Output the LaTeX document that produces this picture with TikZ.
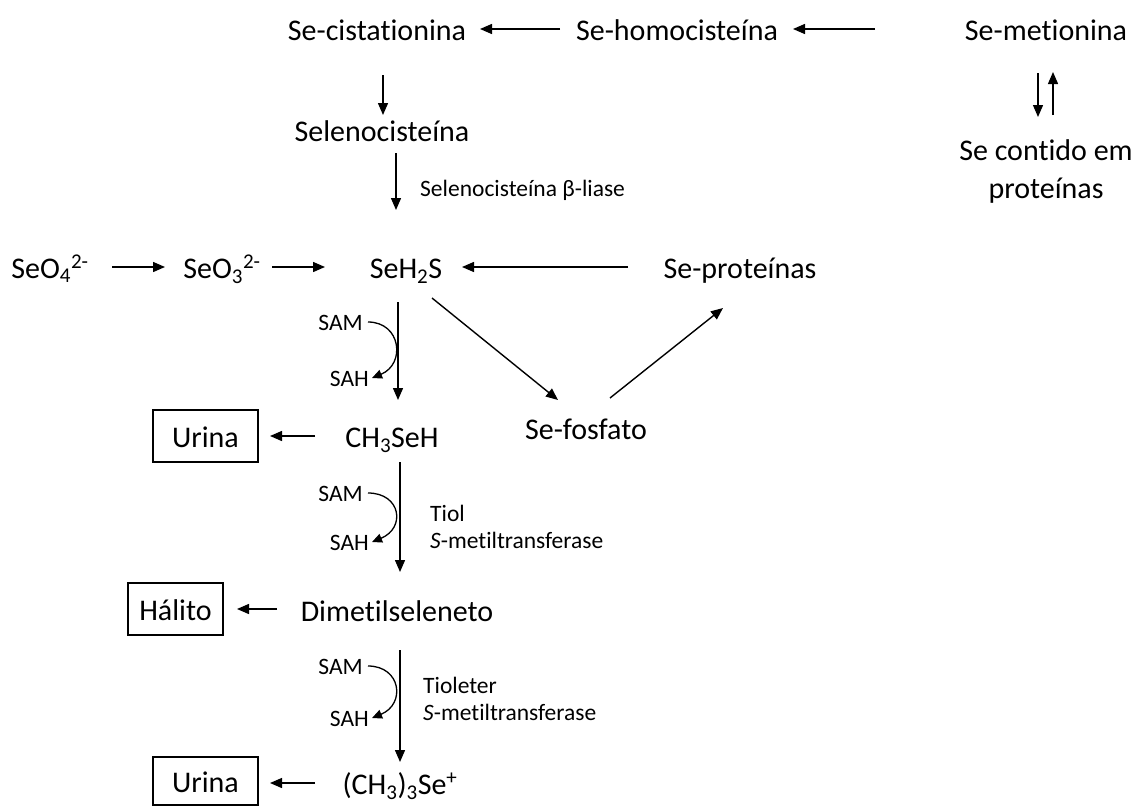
\documentclass[tikz,border=0pt]{standalone}
\usepackage{fontspec}
\setmainfont{Carlito}[Ligatures=NoCommon]
\usetikzlibrary{arrows.meta}
\begin{document}
\begin{tikzpicture}[x=1pt,y=-1pt,
  lbl/.style={font=\fontsize{30}{38}\selectfont, inner sep=0pt, text height=22pt, text depth=0pt},
  sml/.style={font=\fontsize{23.5}{28}\selectfont, inner sep=0pt, text height=16pt, text depth=0pt},
  box/.style={lbl, draw, line width=1.2pt, minimum width=105pt, minimum height=52pt},
  arr/.style={line width=1.4pt, -{Triangle[length=12pt,width=10pt]}},
  carr/.style={line width=1.3pt, -{Triangle[length=10pt,width=9pt]}}]
\useasboundingbox (0,0) rectangle (1141,806);
% nodes
\node[lbl] (scist) at (377,29) {Se-cistationina};
\node[lbl] (shomo) at (677,29) {Se-homocisteína};
\node[lbl] (smet) at (1046,29) {Se-metionina};
\node[font=\fontsize{30}{38}\selectfont, inner sep=0pt, align=center] (sprt) at (1046,171) {Se contido em\\proteínas};
\node[lbl] (selc) at (382,130) {Selenocisteína};
\node[sml, anchor=west] (bliase) at (420,188) {Selenocisteína β-liase};
\node[lbl] (seo4) at (50,267) {SeO\textsubscript{4}\textsuperscript{2-}};
\node[lbl] (seo3) at (222,267) {SeO\textsubscript{3}\textsuperscript{2-}};
\node[lbl] (seh2s) at (406,267) {SeH\textsubscript{2}S};
\node[lbl] (sprot) at (740,267) {Se-proteínas};
\node[sml, anchor=east] (sam1) at (363,322) {SAM};
\node[sml, anchor=east] (sah1) at (369,378) {SAH};
\node[lbl] (sfos) at (586,428) {Se-fosfato};
\node[lbl] (ch3) at (392,436) {CH\textsubscript{3}SeH};
\node[box] (ur1) at (205.5,436) {Urina};
\node[sml, anchor=east] (sam2) at (363,493) {SAM};
\node[sml, anchor=east] (sah2) at (369,542) {SAH};
\node[sml, anchor=west] (tiol) at (430,513) {Tiol};
\node[sml, anchor=west] (smt1) at (430,540) {\textit{S}-metiltransferase};
\node[lbl] (dimet) at (397,610) {Dimetilseleneto};
\node[box, minimum width=95pt] (hal) at (175.5,609) {Hálito};
\node[sml, anchor=east] (sam3) at (363,666) {SAM};
\node[sml, anchor=east] (sah3) at (369,718) {SAH};
\node[sml, anchor=west] (tiolet) at (423,685) {Tioleter};
\node[sml, anchor=west] (smt2) at (423,712) {\textit{S}-metiltransferase};
\node[lbl] (tri) at (400,783) {(CH\textsubscript{3})\textsubscript{3}Se\textsuperscript{+}};
\node[box, minimum height=48pt] (ur2) at (205.5,781) {Urina};
% connectors
\draw[arr] ([shift={(-117,0)}]shomo.center) -- ([shift={(103,0)}]scist.center);
\draw[arr] ([shift={(-171,0)}]smet.center) -- ([shift={(116,0)}]shomo.center);
\draw[arr] ([shift={(6,46)}]scist.center) -- ([shift={(1,-15)}]selc.center);
\draw[arr] ([shift={(14,23)}]selc.center) -- ([shift={(-10,-57)}]seh2s.center);
\draw[arr] ([shift={(62,0)}]seo4.center) -- ([shift={(-57,0)}]seo3.center);
\draw[arr] ([shift={(50,0)}]seo3.center) -- ([shift={(-81,0)}]seh2s.center);
\draw[arr] ([shift={(-112,0)}]sprot.center) -- ([shift={(56,0)}]seh2s.center);
\draw[arr] ([shift={(-8,35)}]seh2s.center) -- ([shift={(6,-36)}]ch3.center);
\draw[arr] ([shift={(26,31)}]seh2s.center) -- ([shift={(-28,-28)}]sfos.center);
\draw[arr] ([shift={(24,-30)}]sfos.center) -- ([shift={(-17,41)}]sprot.center);
\draw[arr] ([shift={(-77,0)}]ch3.center) -- ([shift={(64.5,0)}]ur1.center);
\draw[arr] ([shift={(8,26)}]ch3.center) -- ([shift={(3,-38)}]dimet.center);
\draw[arr] ([shift={(-120,-1)}]dimet.center) -- ([shift={(61.5,0)}]hal.center);
\draw[arr] ([shift={(3,40)}]dimet.center) -- ([shift={(0,-21)}]tri.center);
\draw[arr] ([shift={(-85,0)}]tri.center) -- ([shift={(64.5,2)}]ur2.center);
\draw[arr] ([shift={(-8,44)}]smet.center) -- ([shift={(-8,-54)}]sprt.center);
\draw[arr] ([shift={(7,-56)}]sprt.center) -- ([shift={(7,43)}]smet.center);
% SAM -> SAH curves
\foreach \a/\b in {sam1/sah1, sam2/sah2, sam3/sah3}{
  \draw[carr] ([shift={(5,0)}]\a.east) .. controls ([shift={(38,0)}]\a.east) and ([shift={(37,-14)}]\b.east) .. ([shift={(3,0)}]\b.east);
}
\end{tikzpicture}
\end{document}
